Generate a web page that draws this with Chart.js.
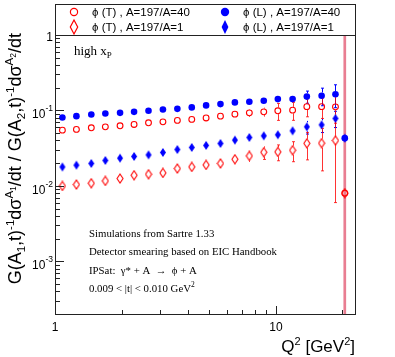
<!DOCTYPE html>
<html>
<head>
<meta charset="utf-8">
<script src="https://cdn.jsdelivr.net/npm/chart.js@4.4.1/dist/chart.umd.min.js"></script>
<style>
  html, body { margin: 0; padding: 0; background: #fff; }
  #wrap { width: 395px; height: 357px; }
</style>
</head>
<body>
<div id="wrap"><canvas id="ratioChart" width="395" height="357"></canvas></div>
<script>
// Q2 bin centres [GeV^2]
const q2 = [1.08, 1.25, 1.46, 1.69, 1.97, 2.28, 2.65, 3.08, 3.58, 4.16, 4.83, 5.61, 6.52, 7.58, 8.81, 10.2, 11.9, 13.8, 16.1, 18.6, 20.5]

// phi (L), A=197/A=40
const phiL40 = [0.0807, 0.0840, 0.0885, 0.0912, 0.0929, 0.0958, 0.0988, 0.1031, 0.1050, 0.1096, 0.1165, 0.1213, 0.1277, 0.1301, 0.1341, 0.1413, 0.1413, 0.1525, 0.1563, 0.1637, 0.0429]
const phiL40Err = [0.001, 0.001, 0.001, 0.001, 0.001, 0.002, 0.002, 0.002, 0.002, 0.003, 0.003, 0.004, 0.004, 0.005, 0.006, 0.008, 0.011, 0.028, 0.041, 0.055, 0]

// phi (L), A=197/A=1
const phiL1 = [0.0178, 0.0188, 0.0198, 0.0217, 0.0233, 0.0245, 0.0257, 0.0277, 0.0303, 0.0323, 0.0344, 0.0365, 0.0404, 0.0438, 0.0460, 0.0475, 0.0536, 0.0606, 0.0644, 0.0783, 0.0429]
const phiL1Err = [0.0003, 0.0003, 0.0004, 0.0004, 0.0005, 0.0005, 0.0006, 0.0006, 0.0007, 0.0008, 0.0009, 0.001, 0.0012, 0.0015, 0.002, 0.003, 0.006, 0.012, 0.0135, 0.019, 0]

// phi (T), A=197/A=40
const phiT40 = [0.0548, 0.0560, 0.0588, 0.0606, 0.0625, 0.0652, 0.0685, 0.0706, 0.0737, 0.0760, 0.0795, 0.0840, 0.0893, 0.0929, 0.0958, 0.0988, 0.1009, 0.1123, 0.1123, 0.1116, 0.0080]
const phiT40Err = [0.001, 0.001, 0.001, 0.002, 0.002, 0.002, 0.002, 0.003, 0.003, 0.004, 0.005, 0.006, 0.008, 0.011, 0.013, 0.025, 0.027, 0.030, 0.034, 0.044, 1.5]

// phi (T), A=197/A=1
const phiT1 = [0.00997, 0.01041, 0.01083, 0.01162, 0.0125, 0.01383, 0.01426, 0.01484, 0.01697, 0.01782, 0.01895, 0.01985, 0.02255, 0.02494, 0.02793, 0.0282, 0.0297, 0.0366, 0.0368, 0.0400, 0.0080]
const phiT1Err = [0.0003, 0.0003, 0.0004, 0.0004, 0.0005, 0.0006, 0.0006, 0.0007, 0.0009, 0.001, 0.0012, 0.0015, 0.0025, 0.0042, 0.0055, 0.0067, 0.0088, 0.0145, 0.021, 0.034, 1.5]

// axis ticks
const xTickValues = [1, 2, 3, 4, 5, 6, 7, 8, 9, 10, 20]
const xTickLabels = { 1: '1', 10: '10' }
const yMajorExp = [0, -1, -2, -3]
const yMinorMult = [2, 3, 4, 5, 6, 7, 8, 9]

const RED = '#ff0000'
const BLUE = '#0000ff'
const SANS = '"Liberation Sans", Arial, sans-serif'
const SERIF = '"Liberation Serif", "Times New Roman", serif'

function toPoints(vals) {
  return vals.map((v, i) => ({ x: q2[i], y: v }))
}

// tall ROOT-like diamond markers
function makeDiamond(w, h, fill, stroke, lw) {
  const c = document.createElement('canvas')
  c.width = w + 2
  c.height = h + 2
  const g = c.getContext('2d')
  const cx = c.width / 2, cy = c.height / 2
  g.beginPath()
  g.moveTo(cx, 1)
  g.lineTo(c.width - 1, cy)
  g.lineTo(cx, c.height - 1)
  g.lineTo(1, cy)
  g.closePath()
  if (fill) { g.fillStyle = fill; g.fill() }
  if (stroke) { g.strokeStyle = stroke; g.lineWidth = lw; g.stroke() }
  return c
}

const blueDiamond = makeDiamond(6, 9, BLUE, null, 0)
const redDiamond = makeDiamond(6, 9, null, RED, 1.1)

// draws text pieces with sizes / vertical shifts
function drawPieces(ctx, pieces, x, y, family, align) {
  let total = 0
  pieces.forEach(p => {
    ctx.font = p.s + 'px ' + family
    p.w = ctx.measureText(p.t).width
    total += p.w
  })
  let cx = align === 'right' ? x - total : x
  ctx.textAlign = 'left'
  ctx.textBaseline = 'alphabetic'
  pieces.forEach(p => {
    ctx.font = p.s + 'px ' + family
    ctx.fillText(p.t, cx, y + (p.dy || 0))
    cx += p.w
  })
}

// error bars, drawn below the markers
const errorBars = {
  id: 'errorBars',
  beforeDatasetsDraw(chart) {
    const { ctx, chartArea: a, scales: { y } } = chart
    ctx.save()
    ctx.beginPath()
    ctx.rect(a.left, a.top, a.right - a.left, a.bottom - a.top)
    ctx.clip()
    chart.data.datasets.forEach((ds, di) => {
      const meta = chart.getDatasetMeta(di)
      ds.errors.forEach((e, i) => {
        if (!e) return
        const v = ds.data[i].y
        const el = meta.data[i]
        const top = y.getPixelForValue(v + e)
        const bot = v - e > 0 ? y.getPixelForValue(v - e) : a.bottom + 5
        const gap = ds.errGap
        // bars running off both ends of the frame are drawn as a wide faint band
        const offFrame = top < a.top && bot > a.bottom
        const px = offFrame ? el.x : Math.round(el.x) + 0.5
        ctx.strokeStyle = offFrame ? 'rgba(225,70,100,0.45)' : ds.errColor
        ctx.lineWidth = offFrame ? 2.6 : 1
        ctx.beginPath()
        if (offFrame) {
          ctx.moveTo(px, top); ctx.lineTo(px, bot)
        } else {
          if (el.y - gap > top) { ctx.moveTo(px, top); ctx.lineTo(px, el.y - gap) }
          if (bot > el.y + gap) { ctx.moveTo(px, el.y + gap); ctx.lineTo(px, bot) }
          if (el.y - gap > top + 2) { ctx.moveTo(px - 1.5, top); ctx.lineTo(px + 1.5, top) }
          if (bot > el.y + gap + 2) { ctx.moveTo(px - 1.5, bot); ctx.lineTo(px + 1.5, bot) }
        }
        ctx.stroke()
      })
    })
    ctx.restore()
  },
}

// ROOT style frame, inward ticks, labels, titles, legend and notes
const rootFrame = {
  id: 'rootFrame',
  afterDraw(chart) {
    const { ctx, chartArea: a, scales: { x, y } } = chart
    ctx.save()
    ctx.strokeStyle = '#222'
    ctx.lineWidth = 1

    // frame and legend box
    ctx.strokeRect(a.left + 0.5, a.top + 0.5, a.right - a.left, a.bottom - a.top)
    ctx.strokeRect(a.left + 0.5, 4.5, a.right - a.left, a.top - 4)

    // inward ticks
    ctx.beginPath()
    x.ticks.forEach(t => {
      const px = Math.round(x.getPixelForValue(t.value)) + 0.5
      ctx.moveTo(px, a.bottom)
      ctx.lineTo(px, a.bottom - (t.major ? 8 : 4))
    })
    y.ticks.forEach(t => {
      const py = Math.round(y.getPixelForValue(t.value)) + 0.5
      ctx.moveTo(a.left, py)
      ctx.lineTo(a.left + (t.major ? 9 : 5), py)
    })
    ctx.stroke()

    // y tick labels with superscript exponents
    ctx.fillStyle = '#000'
    yMajorExp.forEach(ex => {
      const py = y.getPixelForValue(Math.pow(10, ex))
      if (ex === 0) {
        drawPieces(ctx, [{ t: '1', s: 12 }], 53, py + 6, SANS, 'right')
      } else {
        drawPieces(ctx, [{ t: '10', s: 12, dy: 8 }, { t: '-' + Math.abs(ex), s: 8.5, dy: 1 }], 53, py, SANS, 'right')
      }
    })

    // axis titles
    drawPieces(ctx, [
      { t: 'Q', s: 17 }, { t: '2', s: 11, dy: -7 }, { t: ' [GeV', s: 17 }, { t: '2', s: 11, dy: -7 }, { t: ']', s: 17 },
    ], a.right, 352, SANS, 'right')

    ctx.save()
    ctx.translate(21, 33)
    ctx.rotate(-Math.PI / 2)
    drawPieces(ctx, [
      { t: 'G(A', s: 18 }, { t: '1', s: 11.5, dy: 4 }, { t: ',t)', s: 18 }, { t: '-1', s: 11.5, dy: -7 },
      { t: 'd\u03c3', s: 18 }, { t: 'A', s: 11.5, dy: -8 }, { t: '1', s: 8.5, dy: -5 },
      { t: '/dt / G(A', s: 18 }, { t: '2', s: 11.5, dy: 4 }, { t: ',t)', s: 18 }, { t: '-1', s: 11.5, dy: -7 },
      { t: 'd\u03c3', s: 18 }, { t: 'A', s: 11.5, dy: -8 }, { t: '2', s: 8.5, dy: -5 }, { t: '/dt', s: 18 },
    ], 0, 0, SANS, 'right')
    ctx.restore()

    // notes inside the frame
    drawPieces(ctx, [{ t: 'high x', s: 13 }, { t: 'P', s: 9, dy: 3 }], 74, 55, SERIF, 'left')
    drawPieces(ctx, [{ t: 'Simulations from Sartre 1.33', s: 10.8 }], 89, 237, SERIF, 'left')
    drawPieces(ctx, [{ t: 'Detector smearing based on EIC Handbook', s: 10.8 }], 89, 255, SERIF, 'left')
    drawPieces(ctx, [{ t: 'IPSat:  \u03b3* + A  \u2192  \u03d5 + A', s: 10.8 }], 89, 274, SERIF, 'left')
    drawPieces(ctx, [{ t: '0.009 < |t| < 0.010 GeV', s: 10.8 }, { t: '2', s: 7.5, dy: -5 }], 89, 292, SERIF, 'left')

    // legend (2 columns)
    const ds = chart.data.datasets
    const slots = [
      { d: ds[2], mx: 74, tx: 92, ty: 12 },
      { d: ds[0], mx: 225, tx: 243, ty: 12 },
      { d: ds[3], mx: 74, tx: 92, ty: 27 },
      { d: ds[1], mx: 225, tx: 243, ty: 27 },
    ]
    slots.forEach(s => {
      const d = s.d
      if (d.legendMarker === 'openCircle') {
        ctx.beginPath(); ctx.arc(s.mx, s.ty, 3.6, 0, Math.PI * 2)
        ctx.strokeStyle = RED; ctx.lineWidth = 1.2; ctx.stroke()
      } else if (d.legendMarker === 'circle') {
        ctx.beginPath(); ctx.arc(s.mx, s.ty, 4.2, 0, Math.PI * 2)
        ctx.fillStyle = BLUE; ctx.fill()
      } else {
        const w = d.legendMarker === 'openDiamond' ? 3.7 : 3.4
        ctx.beginPath()
        ctx.moveTo(s.mx, s.ty - 7); ctx.lineTo(s.mx + w, s.ty)
        ctx.lineTo(s.mx, s.ty + 7); ctx.lineTo(s.mx - w, s.ty); ctx.closePath()
        if (d.legendMarker === 'openDiamond') { ctx.strokeStyle = RED; ctx.lineWidth = 1.2; ctx.stroke() }
        else { ctx.fillStyle = BLUE; ctx.fill() }
      }
      ctx.fillStyle = '#000'
      drawPieces(ctx, [{ t: d.label, s: 11.5 }], s.tx, s.ty + 4, SANS, 'left')
    })
    ctx.restore()
  },
}

const ctx = document.getElementById('ratioChart').getContext('2d')
const ratioChart = new Chart(ctx, {
  type: 'scatter',
  data: {
    datasets: [
      {
        label: '\u03d5 (L) , A=197/A=40',
        data: toPoints(phiL40),
        errors: phiL40Err,
        errColor: BLUE,
        errGap: 3.3,
        legendMarker: 'circle',
        pointStyle: 'circle',
        pointRadius: 3.3,
        borderWidth: 0,
        backgroundColor: BLUE,
      },
      {
        label: '\u03d5 (L) , A=197/A=1',
        data: toPoints(phiL1),
        errors: phiL1Err,
        errColor: BLUE,
        errGap: 4.5,
        legendMarker: 'diamond',
        pointStyle: blueDiamond,
      },
      {
        label: '\u03d5 (T) , A=197/A=40',
        data: toPoints(phiT40),
        errors: phiT40Err,
        errColor: 'rgba(255,0,0,0.8)',
        errGap: 3.3,
        legendMarker: 'openCircle',
        pointStyle: 'circle',
        pointRadius: 2.9,
        borderWidth: 1.1,
        borderColor: RED,
        backgroundColor: 'rgba(0,0,0,0)',
      },
      {
        label: '\u03d5 (T) , A=197/A=1',
        data: toPoints(phiT1),
        errors: phiT1Err,
        errColor: 'rgba(255,0,0,0.8)',
        errGap: 4.5,
        legendMarker: 'openDiamond',
        pointStyle: redDiamond,
      },
    ],
  },
  options: {
    responsive: false,
    animation: false,
    events: [],
    layout: { padding: { left: 0, top: 35, right: 40, bottom: 0 } },
    plugins: {
      legend: { display: false },
      tooltip: { enabled: false },
    },
    scales: {
      x: {
        type: 'logarithmic',
        min: 1,
        max: 22.8,
        afterBuildTicks: (scale) => {
          scale.ticks = xTickValues.map(v => ({ value: v, major: v in xTickLabels }))
        },
        afterFit: (scale) => { scale.height = 43 },
        grid: { display: false, drawTicks: false },
        border: { display: false },
        ticks: {
          autoSkip: false,
          maxRotation: 0,
          padding: 6,
          color: '#000',
          font: { family: SANS, size: 12 },
          callback: (v) => xTickLabels[v] || '',
        },
      },
      y: {
        type: 'logarithmic',
        min: 2e-4,
        max: 1,
        afterBuildTicks: (scale) => {
          const ticks = []
          yMajorExp.forEach(ex => {
            const base = Math.pow(10, ex)
            ticks.push({ value: base, major: true })
            yMinorMult.forEach(m => {
              const v = m * base / 10
              if (v >= scale.min) ticks.push({ value: v, major: false })
            })
          })
          scale.ticks = ticks
        },
        afterFit: (scale) => { scale.width = 55 },
        grid: { display: false, drawTicks: false },
        border: { display: false },
        ticks: { display: false },
      },
    },
  },
  plugins: [errorBars, rootFrame],
})
</script>
</body>
</html>
